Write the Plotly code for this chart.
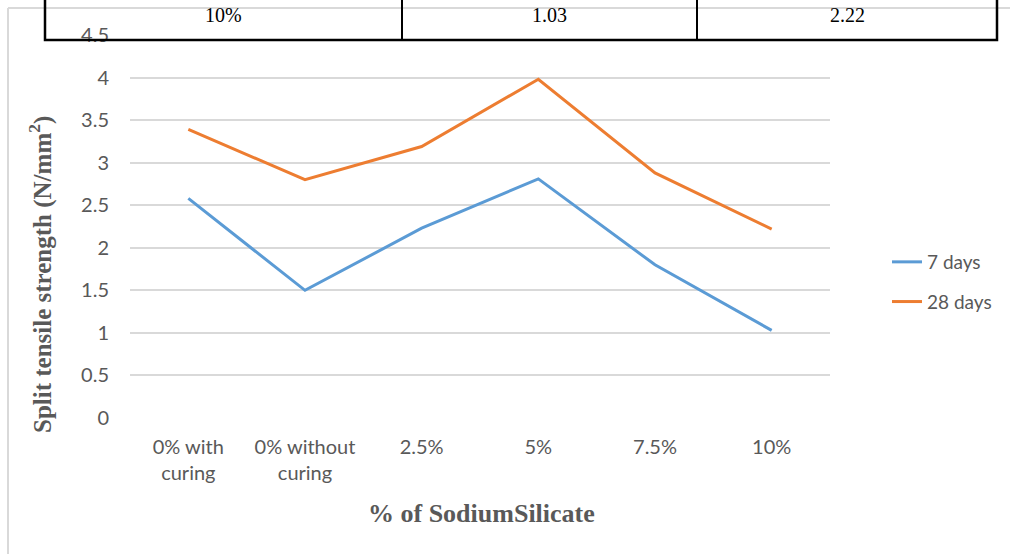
import plotly.graph_objects as go

categories = ["0% with<br>curing", "0% without<br>curing", "2.5%", "5%", "7.5%", "10%"]
days7 = [2.58, 1.50, 2.23, 2.81, 1.80, 1.03]
days28 = [3.39, 2.80, 3.19, 3.98, 2.88, 2.22]
series_names = ["7 days", "28 days"]
series_colors = ["#5B9BD5", "#ED7D31"]
y_ticks = [0, 0.5, 1, 1.5, 2, 2.5, 3, 3.5, 4, 4.5]
y_tick_labels = ["0", "0.5", "1", "1.5", "2", "2.5", "3", "3.5", "4", "4.5"]
table_row = ["10%", "1.03", "2.22"]

W, H = 1010, 554
L, R, T, B = 130, 180, 35, 136
PW, PH = W - L - R, H - T - B


def px(x):
    return (x - L) / PW


def py(y):
    return (H - B - y) / PH


fig = go.Figure()
for i, (name, vals) in enumerate(zip(series_names, [days7, days28])):
    fig.add_trace(go.Scatter(
        x=categories, y=vals, mode="lines", name=name,
        line=dict(color=series_colors[i], width=3),
        legendgroup=name,
    ))

tick_font = dict(family="Lato, Open Sans, sans-serif", size=20, color="#595959")
fig.update_layout(
    width=W, height=H,
    margin=dict(l=L, r=R, t=T, b=B),
    paper_bgcolor="white", plot_bgcolor="white",
    showlegend=True,
    legend=dict(x=px(887), y=py(243), xanchor="left", yanchor="top",
                font=dict(family="Lato, Open Sans, sans-serif", size=19, color="#595959"),
                tracegroupgap=12, bgcolor="rgba(0,0,0,0)"),
    xaxis=dict(type="category", range=[-0.5, 5.5], showgrid=False, zeroline=False,
               showline=False, ticks="", tickfont=tick_font, ticklabelstandoff=15,
               fixedrange=True),
    yaxis=dict(range=[0, 4.5], tickvals=y_ticks, ticktext=y_tick_labels,
               showgrid=True, gridcolor="#D9D9D9", gridwidth=1.5, zeroline=False,
               showline=False, ticks="", tickfont=tick_font, ticklabelstandoff=20,
               fixedrange=True),
)

title_font = dict(family="Liberation Serif, Times New Roman, serif", size=25, color="#595959")
fig.add_annotation(text="<b>Split tensile strength (N/mm<sup>2</sup>)</b>", textangle=-90,
                   xref="paper", yref="paper", x=px(40), y=py(275),
                   showarrow=False, font=title_font, xanchor="center", yanchor="middle")
fig.add_annotation(text="<b>% of SodiumSilicate</b>",
                   xref="paper", yref="paper", x=px(481), y=py(513),
                   showarrow=False, font=dict(title_font, size=26), xanchor="center", yanchor="middle")

# outer chart border (left and top)
fig.add_shape(type="line", xref="paper", yref="paper", x0=px(8), x1=px(8), y0=py(8), y1=py(560),
              line=dict(color="#D9D9D9", width=2), layer="above")
fig.add_shape(type="line", xref="paper", yref="paper", x0=px(8), x1=px(1010), y0=py(8), y1=py(8),
              line=dict(color="#D9D9D9", width=2), layer="above")

# table row above chart
col_edges = [45, 402, 697, 997]
fig.add_shape(type="rect", xref="paper", yref="paper", x0=px(col_edges[0]), x1=px(col_edges[-1]),
              y0=py(40), y1=py(-2), line=dict(color="black", width=2.5),
              fillcolor="rgba(255,255,255,0)", layer="above")
for xe in col_edges[1:-1]:
    fig.add_shape(type="line", xref="paper", yref="paper", x0=px(xe), x1=px(xe),
                  y0=py(40), y1=py(-2), line=dict(color="black", width=2), layer="above")
for i, txt in enumerate(table_row):
    cx = (col_edges[i] + col_edges[i + 1]) / 2
    fig.add_annotation(text=txt, xref="paper", yref="paper", x=px(cx), y=py(15),
                       showarrow=False, xanchor="center", yanchor="middle",
                       font=dict(family="Liberation Serif, Times New Roman, serif", size=20, color="black"))

fig.write_html("out.html", config={"displayModeBar": False},
               post_script="document.body.style.margin='0';")
